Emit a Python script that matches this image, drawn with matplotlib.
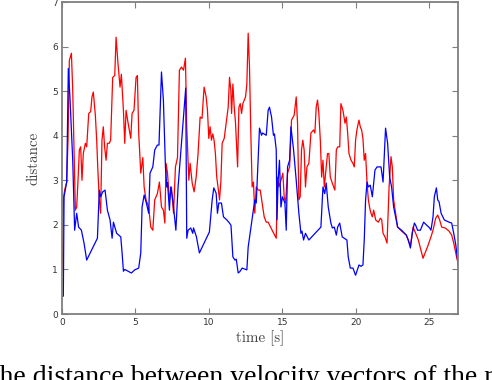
import matplotlib
matplotlib.use("Agg")
import matplotlib.pyplot as plt

# blue series (time, distance)
blue_t = [0.0, 0.09, 0.14, 0.32, 0.43, 0.54, 0.73, 0.86, 1.0, 1.13, 1.32, 1.5, 1.68,
          2.41, 2.54, 2.63, 2.77, 2.93, 3.09, 3.27, 3.41, 3.5, 3.72, 4.0, 4.09, 4.18,
          4.27, 4.5, 4.72, 4.95, 5.22, 5.36, 5.45, 5.59, 5.74, 5.9, 5.99, 6.18, 6.31,
          6.49, 6.6, 6.77, 6.9, 7.04, 7.13, 7.18, 7.31, 7.4, 7.54, 7.68, 7.75, 7.9,
          8.13, 8.36, 8.42, 8.49, 8.58, 8.76, 8.9, 8.95, 9.15, 9.35, 10.03, 10.22,
          10.33, 10.49, 10.58, 10.67, 10.85, 10.99, 11.22, 11.4, 11.5, 11.63, 11.77,
          11.86, 11.99, 12.1, 12.26, 12.58, 12.67, 12.8, 12.99, 13.12, 13.22, 13.44,
          13.58, 13.65, 13.9, 14.03, 14.12, 14.26, 14.39, 14.46, 14.58, 14.63, 14.71,
          14.8, 14.9, 15.0, 15.17, 15.26, 15.35, 15.49, 15.58, 15.76, 15.94, 16.12,
          16.26, 16.33, 16.44, 16.57, 16.8, 17.62, 17.76, 17.88, 17.98, 18.12, 18.3,
          18.4, 18.53, 18.67, 18.76, 18.9, 19.07, 19.39, 19.48, 19.62, 19.8, 19.98,
          20.21, 20.35, 20.48, 20.57, 20.66, 20.76, 20.85, 20.98, 21.12, 21.3, 21.44,
          21.71, 21.85, 22.02, 22.16, 22.3, 22.43, 22.57, 22.7, 22.84, 23.11, 23.43,
          23.57, 23.71, 23.84, 23.98, 24.07, 24.2, 24.39, 24.61, 24.8, 25.02, 25.11,
          25.25, 25.34, 25.48, 25.57, 25.66, 25.8, 26.02, 26.34, 26.52, 26.66, 26.8,
          26.98]
blue_d = [0.40, 0.40, 2.63, 2.96, 5.51, 4.87, 3.45, 1.88, 2.26, 1.95, 1.88, 1.59, 1.21,
          1.70, 2.78, 2.63, 2.74, 2.78, 2.33, 2.11, 1.70, 2.06, 1.81, 1.73, 1.37, 0.96,
          1.00, 0.96, 0.92, 0.99, 1.03, 1.37, 2.40, 2.67, 2.49, 2.26, 3.16, 3.30, 3.68,
          3.79, 3.79, 5.43, 4.80, 3.30, 2.85, 2.95, 2.33, 2.85, 2.56, 2.11, 1.88, 2.85,
          3.83, 4.80, 5.07, 1.70, 1.88, 1.93, 1.81, 1.93, 1.73, 1.37, 1.84, 2.56,
          2.83, 2.71, 2.26, 2.49, 2.49, 2.18, 2.11, 2.04, 1.99, 1.28, 1.21,
          1.23, 0.92, 0.95, 1.03, 0.99, 1.50, 1.81, 2.26, 2.56, 2.49, 4.17,
          4.01, 4.06, 4.01, 4.57, 4.64, 4.42, 4.01, 4.04, 3.68, 2.11, 3.00,
          3.45, 2.40, 2.63, 2.49, 1.88, 3.30, 3.45, 4.20, 3.68, 3.00, 2.26,
          1.81, 1.86, 1.66, 1.81, 1.66, 1.95, 2.85, 2.70, 2.94, 2.40, 2.04,
          1.93, 1.95, 1.77, 1.95, 2.04, 1.73, 1.66, 1.28, 1.03, 1.03, 0.87,
          1.10, 1.07, 1.10, 1.66, 2.56, 2.96, 2.85, 2.89, 2.63, 3.23, 3.30,
          3.30, 2.96, 4.17, 3.83, 3.07, 2.85, 2.40, 2.18, 1.95, 1.88, 1.77,
          1.66, 1.48, 1.81, 2.04, 1.99, 1.88, 1.88, 2.06, 2.00, 1.93, 1.88,
          2.18, 2.63, 2.83, 2.56, 2.52, 2.26, 2.11, 2.06, 2.04, 1.81, 1.55,
          1.05]

# red series (time, distance)
red_t = [0.02, 0.1, 0.18, 0.32, 0.41, 0.5, 0.64, 0.73, 0.82, 0.91, 1.0, 1.09, 1.18,
         1.27, 1.36, 1.45, 1.59, 1.68, 1.82, 1.95, 2.04, 2.13, 2.27, 2.36, 2.45, 2.54,
         2.63, 2.72, 2.81, 2.9, 3.0, 3.09, 3.22, 3.31, 3.45, 3.59, 3.68, 3.81, 3.95,
         4.04, 4.18, 4.27, 4.36, 4.5, 4.68, 4.77, 4.9, 5.04, 5.13, 5.22, 5.36, 5.5,
         5.59, 5.72, 5.9, 6.04, 6.18, 6.31, 6.49, 6.63, 6.77, 6.9, 7.0, 7.08, 7.18,
         7.31, 7.45, 7.59, 7.72, 7.86, 7.99, 8.13, 8.27, 8.4, 8.49, 8.63, 8.72, 8.86,
         8.99, 9.13, 9.26, 9.4, 9.53, 9.67, 9.81, 9.9, 9.99, 10.08, 10.17, 10.26,
         10.35, 10.44, 10.53, 10.62, 10.72, 10.81, 10.9, 11.04, 11.17, 11.31, 11.4,
         11.49, 11.54, 11.63, 11.72, 11.81, 11.9, 11.95, 12.04, 12.13, 12.22, 12.31,
         12.49, 12.58, 12.67, 12.76, 12.85, 12.94, 13.03, 13.12, 13.22, 13.35, 13.49,
         13.62, 13.76, 13.9, 14.03, 14.3, 14.58, 14.67, 14.76, 14.9, 15.03, 15.12,
         15.21, 15.35, 15.49, 15.62, 15.8, 15.94, 16.03, 16.12, 16.21, 16.3, 16.39,
         16.48, 16.57, 16.67, 16.8, 16.94, 17.12, 17.21, 17.3, 17.39, 17.48, 17.58,
         17.67, 17.76, 17.85, 17.94, 18.07, 18.16, 18.26, 18.39, 18.57, 18.67, 18.76,
         18.9, 18.98, 19.12, 19.26, 19.35, 19.44, 19.53, 19.67, 19.8, 19.89, 19.98,
         20.07, 20.21, 20.3, 20.39, 20.48, 20.57, 20.66, 20.76, 20.85, 20.94, 21.03,
         21.12, 21.21, 21.35, 21.53, 21.67, 21.76, 21.85, 21.98, 22.12, 22.26, 22.39,
         22.48, 22.57, 22.7, 22.84, 23.11, 23.43, 23.71, 23.89, 24.07, 24.25, 24.57,
         24.89, 25.11, 25.25, 25.43, 25.57, 25.7, 25.84, 26.07, 26.34, 26.52, 26.66,
         26.84, 26.98]
red_d = [1.00, 2.60, 2.78, 2.96, 3.90, 5.69, 5.85, 5.02, 3.68, 2.33, 2.40, 3.00, 3.68,
         3.75, 3.00, 3.60, 3.83, 3.75, 4.50, 4.54, 4.87, 4.98, 4.46, 3.90, 3.16, 2.56,
         2.26, 3.90, 4.20, 3.75, 3.45, 3.83, 3.83, 3.90, 5.31, 5.35, 6.21, 5.62, 5.09,
         5.38, 4.57, 3.83, 4.57, 4.28, 3.94, 4.50, 4.57, 5.31, 5.35, 4.06, 3.16, 3.51,
         2.85, 2.56, 2.40, 1.95, 1.88, 2.56, 2.70, 2.96, 2.40, 2.33, 2.04, 3.38, 3.16,
         2.56, 2.85, 2.26, 3.30, 3.51, 5.47, 5.54, 5.47, 5.74, 4.20, 3.00, 3.38, 2.94,
         2.74, 3.07, 3.60, 4.42, 4.39, 5.09, 4.87, 4.57, 3.94, 4.20, 3.90, 4.04,
         3.90, 3.60, 3.07, 2.85, 2.56, 2.96, 3.83, 3.94, 4.28, 4.64, 5.31,
         5.02, 4.50, 5.16, 4.64, 4.28, 3.68, 3.30, 4.64, 4.72, 4.50, 4.72,
         4.87, 5.16, 6.30, 5.54, 4.06, 2.85, 2.96, 2.26, 2.85, 2.78, 2.78,
         2.49, 2.18, 2.06, 2.06, 1.88, 1.70, 3.07, 2.85, 3.00, 3.16, 2.63,
         2.49, 3.16, 3.30, 4.35, 4.46, 4.87, 4.28, 2.56, 2.63, 3.68, 3.90,
         3.68, 2.85, 3.30, 3.38, 4.06, 4.13, 4.06, 4.64, 4.80, 4.50, 3.90,
         3.07, 3.45, 2.85, 3.16, 3.60, 3.60, 3.07, 2.94, 2.78, 3.68, 3.75,
         3.75, 4.72, 4.57, 4.28, 4.42, 4.06, 3.60, 3.45, 3.38, 3.30, 3.90,
         4.13, 4.35, 4.20, 4.13, 3.94, 3.45, 3.60, 2.94, 2.56, 2.38, 2.26,
         2.18, 2.33, 2.11, 2.06, 2.15, 2.11, 1.81, 1.73, 1.59, 2.85, 3.53,
         3.30, 2.56, 2.26, 1.95, 1.86, 1.77, 1.52, 1.95, 1.81, 1.66, 1.25,
         1.52, 1.73, 1.88, 2.15, 2.22, 2.11, 1.95, 1.93, 1.86, 1.77, 1.59,
         1.30, 1.10]

x_ticks = [0, 5, 10, 15, 20, 25]
y_ticks = [0, 1, 2, 3, 4, 5, 6, 7]
x_label = "time [s]"
y_label = "distance"
caption = "the distance between velocity vectors of the robot"

fig = plt.figure(figsize=(4.92, 3.80), dpi=100)
ax = fig.add_axes([62 / 492, 1 - 314 / 380, 396 / 492, 312 / 380])

ax.plot(red_t, red_d, color="#ff0000", lw=0.9)
ax.plot(blue_t, blue_d, color="#0000ff", lw=0.9)

ax.set_xlim(0, 26.95)
ax.set_ylim(0, 7)
ax.set_xticks(x_ticks)
ax.set_yticks(y_ticks)

grey = "#7f7f7f"
for s in ax.spines.values():
    s.set_color(grey)
    s.set_linewidth(1.3)
ax.tick_params(direction="in", length=4, width=0.8, color=grey,
               top=True, right=True, labelsize=6.5, labelcolor="#333333",
               pad=3)

ax.set_xlabel(x_label, family="cmr10", fontsize=10.8, color="#444444", labelpad=2)
ax.set_ylabel(y_label, family="cmr10", fontsize=10.8, color="#444444", labelpad=8)

# caption below the figure, cut off by the image edge as in the source page
fig.text(-8 / 492, 1 - 384 / 380, caption, family="Liberation Serif",
         fontsize=20, color="black", va="baseline", ha="left")

fig.savefig("out.png", dpi=100)
